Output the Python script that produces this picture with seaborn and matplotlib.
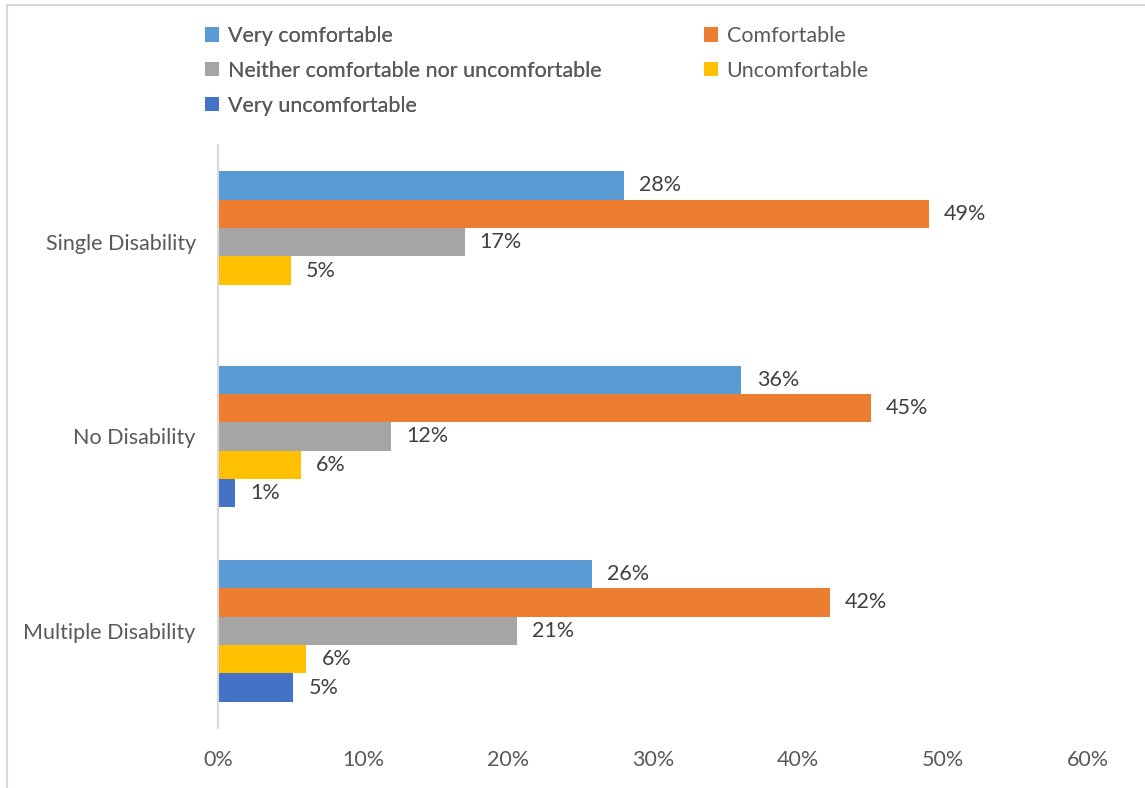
import numpy as np
import pandas as pd
import matplotlib
matplotlib.use("Agg")
import matplotlib.pyplot as plt
from matplotlib.patches import Patch
from matplotlib.lines import Line2D
import seaborn as sns

# Survey responses (% of respondents) by disability group
groups = ["Single Disability", "No Disability", "Multiple Disability"]
levels = ["Very comfortable", "Comfortable",
          "Neither comfortable nor uncomfortable", "Uncomfortable",
          "Very uncomfortable"]
very_comfortable = [28.0, 36.1, 25.8]
comfortable = [49.0, 45.0, 42.2]
neither = [17.0, 11.9, 20.6]
uncomfortable = [5.0, 5.7, 6.1]
very_uncomfortable = [np.nan, 1.2, 5.2]
x_ticks = [0, 10, 20, 30, 40, 50, 60]

colors = ["#5B9BD5", "#ED7D31", "#A5A5A5", "#FFC000", "#4472C4"]

series = [very_comfortable, comfortable, neither, uncomfortable, very_uncomfortable]
rows = []
for lvl, vals in zip(levels, series):
    for g, v in zip(groups, vals):
        rows.append({"group": g, "level": lvl, "pct": v})
df = pd.DataFrame(rows).dropna()

FS = 15.5

sns.set_theme(style="white")
plt.rcParams["font.family"] = ["Lato", "DejaVu Sans"]

fig = plt.figure(figsize=(11.45, 7.88), dpi=100)
ax = fig.add_axes([218 / 1145, 1 - 728 / 788, (1088 - 218) / 1145, (728 - 145) / 788])

sns.barplot(data=df, y="group", x="pct", hue="level", order=groups,
            hue_order=levels, palette=colors, orient="h", width=0.73,
            linewidth=0, saturation=1, errorbar=None, legend=False, ax=ax)

for cont in ax.containers:
    ax.bar_label(cont, fmt="{:.0f}%", padding=11, fontsize=FS, color="#404040")

ax.set_xlim(0, 60)
ax.set_ylim(2.5, -0.5)
ax.set_xticks(x_ticks)
ax.set_xticklabels([f"{t}%" for t in x_ticks])
ax.set_xlabel("")
ax.set_ylabel("")
ax.tick_params(axis="both", length=0, labelsize=FS, labelcolor="#595959")
ax.tick_params(axis="x", pad=16)
ax.tick_params(axis="y", pad=16)
for side in ["top", "right", "bottom"]:
    ax.spines[side].set_visible(False)
ax.spines["left"].set_color("#D9D9D9")
ax.spines["left"].set_linewidth(1.5)

# Legend laid out in two columns, read row by row
handles = [Patch(facecolor=c, edgecolor="none") for c in colors]
leg_kw = dict(frameon=False, loc="upper left", fontsize=FS, borderpad=0,
              borderaxespad=0, handlelength=0.65, handleheight=0.65,
              handletextpad=0.4, labelspacing=0.69, labelcolor="#595959")
leg1 = fig.legend([handles[0], handles[2], handles[4]],
                  [levels[0], levels[2], levels[4]],
                  bbox_to_anchor=(205 / 1145, 1 - 26 / 788), **leg_kw)
fig.add_artist(leg1)
fig.legend([handles[1], handles[3]], [levels[1], levels[3]],
           bbox_to_anchor=(704 / 1145, 1 - 26 / 788), **leg_kw)

# Chart frame edges
fig.add_artist(Line2D([6.5 / 1145, 1], [1 - 4.5 / 788, 1 - 4.5 / 788],
                      transform=fig.transFigure, color="#D9D9D9", linewidth=1.5))
fig.add_artist(Line2D([6.5 / 1145, 6.5 / 1145], [0, 1 - 4.5 / 788],
                      transform=fig.transFigure, color="#D9D9D9", linewidth=1.5))

fig.savefig("out.png", dpi=100)
